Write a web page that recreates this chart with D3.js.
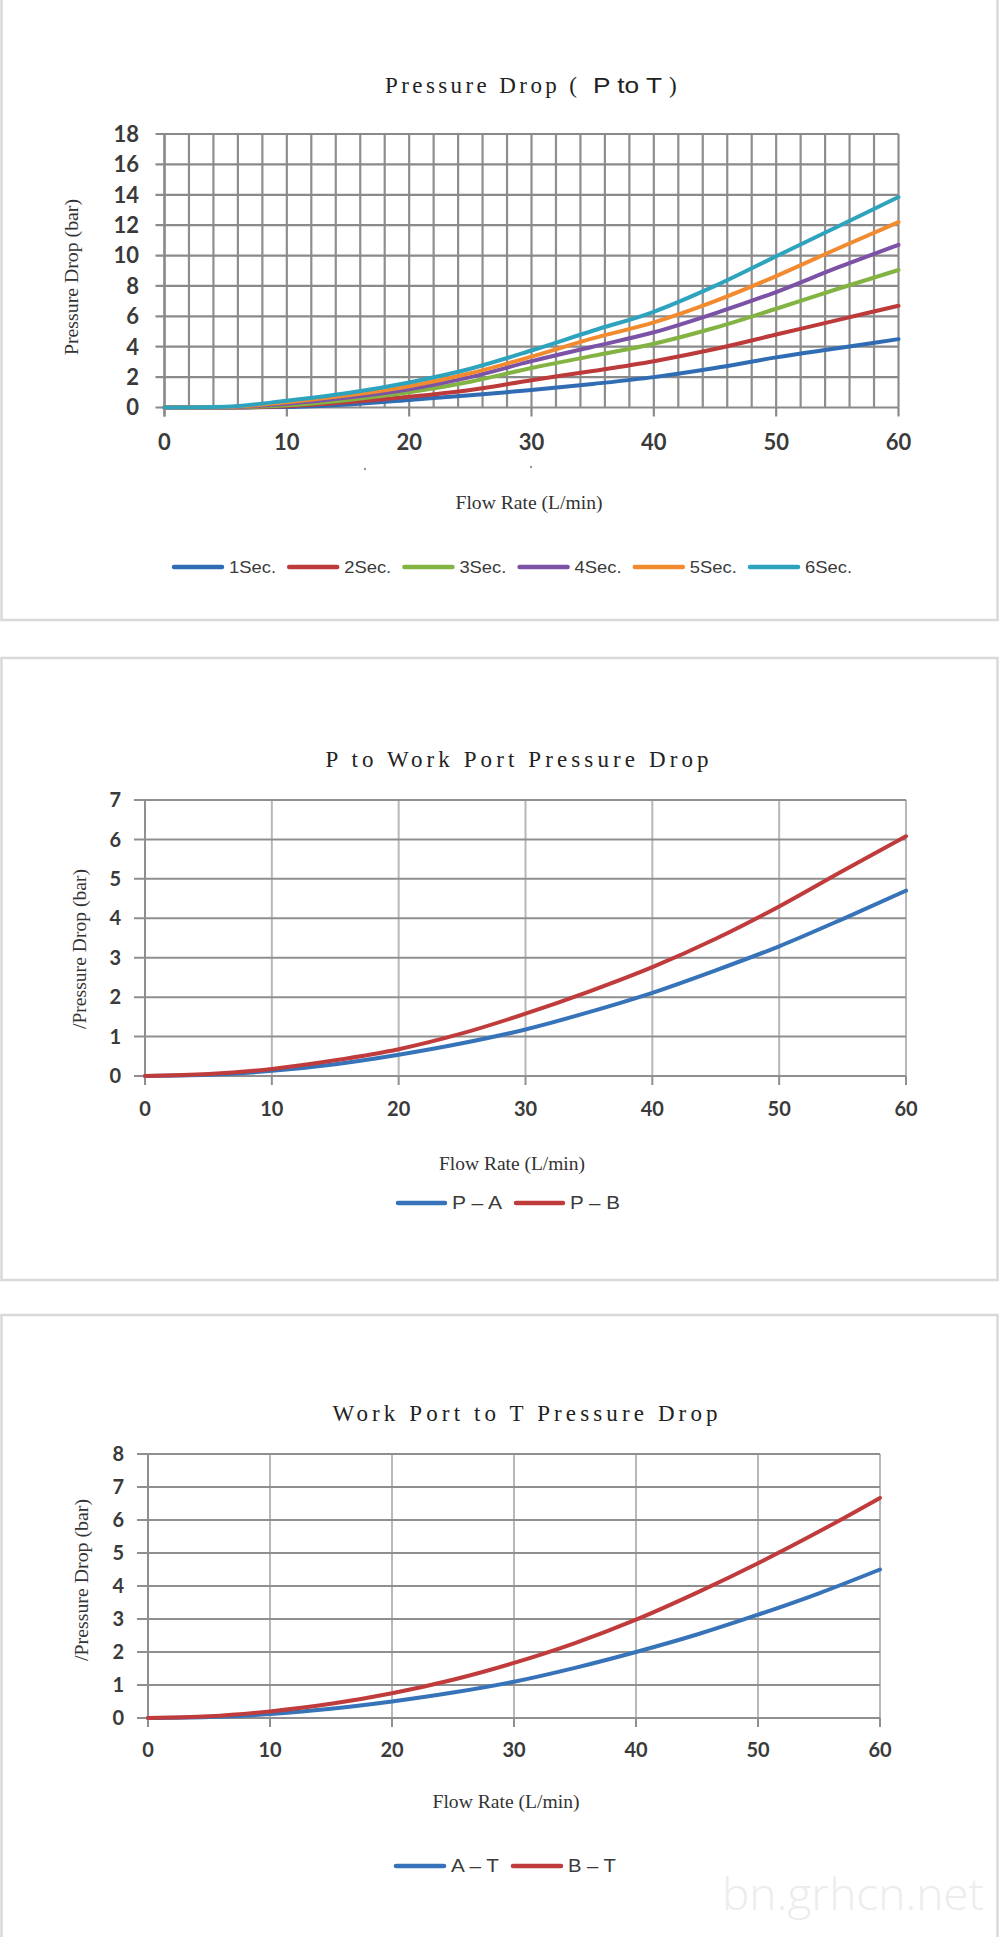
<!DOCTYPE html>
<html>
<head>
<meta charset="utf-8">
<script src="https://cdn.jsdelivr.net/npm/d3@7"></script>
<style>
  html, body { margin: 0; padding: 0; background: #fff; }
  svg { display: block; }
</style>
</head>
<body>
<svg id="chart" width="1000" height="1937"></svg>
<script>
// ---------------- DATA ----------------
const flow = [0, 5, 10, 15, 20, 25, 30, 35, 40, 45, 50, 55, 60];
const xTicks = [0, 10, 20, 30, 40, 50, 60];

// Chart 1: Pressure Drop (P to T)
const seriesNames1 = ["1Sec.", "2Sec.", "3Sec.", "4Sec.", "5Sec.", "6Sec."];
const sec1 = [0, 0, 0.03, 0.2, 0.5, 0.8, 1.15, 1.55, 2.0, 2.6, 3.3, 3.9, 4.5];
const sec2 = [0, 0, 0.08, 0.35, 0.7, 1.15, 1.8, 2.4, 3.05, 3.85, 4.8, 5.75, 6.7];
const sec3 = [0, 0.01, 0.15, 0.5, 1.0, 1.7, 2.6, 3.4, 4.2, 5.25, 6.5, 7.8, 9.05];
const sec4 = [0, 0.02, 0.25, 0.65, 1.2, 2.0, 3.05, 4.0, 4.95, 6.2, 7.6, 9.2, 10.7];
const sec5 = [0, 0.03, 0.35, 0.8, 1.4, 2.25, 3.35, 4.55, 5.6, 7.0, 8.65, 10.45, 12.2];
const sec6 = [0, 0.05, 0.45, 0.95, 1.65, 2.55, 3.75, 5.05, 6.3, 8.0, 9.95, 11.9, 13.85];
const yTicks1 = [0, 2, 4, 6, 8, 10, 12, 14, 16, 18];
const xGrid1 = d3.range(0, 61, 2);

// Chart 2: P to Work Port
const seriesNames2 = ["P – A", "P – B"];
const pA = [0, 0.03, 0.13, 0.3, 0.54, 0.83, 1.18, 1.62, 2.11, 2.68, 3.29, 3.98, 4.7];
const pB = [0, 0.05, 0.18, 0.4, 0.68, 1.08, 1.58, 2.14, 2.76, 3.48, 4.3, 5.2, 6.08];
const yTicks2 = [0, 1, 2, 3, 4, 5, 6, 7];

// Chart 3: Work Port to T
const seriesNames3 = ["A – T", "B – T"];
const aT = [0, 0.03, 0.12, 0.28, 0.5, 0.77, 1.1, 1.52, 2.0, 2.53, 3.13, 3.78, 4.5];
const bT = [0, 0.05, 0.2, 0.43, 0.75, 1.16, 1.67, 2.27, 2.98, 3.8, 4.69, 5.65, 6.67];
const yTicks3 = [0, 1, 2, 3, 4, 5, 6, 7, 8];

// ---------------- STYLE ----------------
const colors1 = ["#2f6cb4", "#bd3a3a", "#83b343", "#7b52a5", "#f28b30", "#2ea3bd"];
const colors2 = ["#3673b9", "#c03c3c"];
const serif = "'Liberation Serif', 'Times New Roman', serif";
const sans = "'Liberation Sans', Arial, sans-serif";
const tickFont = "Lato, 'Open Sans', sans-serif";

const svg = d3.select("#chart");

// panels
const panels = [
  { x: 1.5, y: -2, w: 996, h: 622 },
  { x: 1.5, y: 658, w: 996, h: 622 },
  { x: 1.5, y: 1315, w: 996, h: 640 }
];
svg.selectAll("rect.panel").data(panels).join("rect")
  .attr("class", "panel")
  .attr("x", d => d.x).attr("y", d => d.y)
  .attr("width", d => d.w).attr("height", d => d.h)
  .attr("fill", "#fff").attr("stroke", "#d9d9d9").attr("stroke-width", 2.5);

function zip(xs, ys) { return xs.map((x, i) => ({ x, y: ys[i] })); }

function drawChart(cfg) {
  const g = svg.append("g");
  const x = d3.scaleLinear().domain([0, 60]).range([cfg.left, cfg.right]);
  const y = d3.scaleLinear().domain([0, d3.max(cfg.yTicks)]).range([cfg.bottom, cfg.top]);

  // vertical grid
  g.selectAll("line.vg").data(cfg.xGrid).join("line")
    .attr("x1", d => x(d)).attr("x2", d => x(d))
    .attr("y1", cfg.top).attr("y2", cfg.bottom)
    .attr("stroke", cfg.vGridColor).attr("stroke-width", cfg.gridW);
  // horizontal grid + outward ticks
  g.selectAll("line.hg").data(cfg.yTicks).join("line")
    .attr("x1", cfg.left - cfg.yTickLen).attr("x2", cfg.right)
    .attr("y1", d => y(d)).attr("y2", d => y(d))
    .attr("stroke", cfg.hGridColor).attr("stroke-width", cfg.gridW);
  // x ticks downward
  g.selectAll("line.xt").data(xTicks).join("line")
    .attr("x1", d => x(d)).attr("x2", d => x(d))
    .attr("y1", cfg.bottom).attr("y2", cfg.bottom + cfg.xTickLen)
    .attr("stroke", cfg.hGridColor).attr("stroke-width", cfg.gridW);
  // axis line
  g.append("line")
    .attr("x1", cfg.left).attr("x2", cfg.left)
    .attr("y1", cfg.top).attr("y2", cfg.bottom + cfg.xTickLen)
    .attr("stroke", cfg.hGridColor).attr("stroke-width", cfg.gridW);

  // tick labels
  g.selectAll("text.yl").data(cfg.yTicks).join("text")
    .attr("x", cfg.yLabelX).attr("y", d => y(d))
    .attr("dy", "0.36em").attr("text-anchor", "end")
    .attr("font-family", tickFont).attr("font-weight", 700)
    .attr("font-size", cfg.tickSize).attr("fill", "#3a3a3a")
    .text(d => d);
  g.selectAll("text.xl").data(xTicks).join("text")
    .attr("x", d => x(d)).attr("y", cfg.xLabelY)
    .attr("dy", "0.36em").attr("text-anchor", "middle")
    .attr("font-family", tickFont).attr("font-weight", 700)
    .attr("font-size", cfg.tickSize).attr("fill", "#3a3a3a")
    .text(d => d);

  // lines
  const line = d3.line().x(d => x(d.x)).y(d => y(d.y)).curve(d3.curveMonotoneX);
  cfg.series.forEach((s, i) => {
    g.append("path").datum(zip(flow, s))
      .attr("d", line).attr("fill", "none")
      .attr("stroke", cfg.colors[i]).attr("stroke-width", cfg.lineW)
      .attr("stroke-linecap", "round").attr("stroke-linejoin", "round");
  });

  // y title
  g.append("text")
    .attr("transform", `translate(${cfg.yTitleX},${cfg.yTitleY}) rotate(-90)`)
    .attr("text-anchor", "middle").attr("dy", "0.35em")
    .attr("font-family", serif).attr("font-size", 18).attr("fill", "#333")
    .attr("textLength", cfg.yTitleLen).attr("lengthAdjust", "spacingAndGlyphs")
    .text(cfg.yTitle);
  // x title
  g.append("text")
    .attr("x", cfg.xTitleX).attr("y", cfg.xTitleY).attr("dy", "0.35em")
    .attr("text-anchor", "middle")
    .attr("font-family", serif).attr("font-size", 18).attr("fill", "#333")
    .attr("textLength", cfg.xTitleLen).attr("lengthAdjust", "spacingAndGlyphs")
    .text("Flow Rate (L/min)");

  // legend
  cfg.names.forEach((n, i) => {
    const lx = cfg.legendX + i * cfg.legendStep;
    g.append("line")
      .attr("x1", lx).attr("x2", lx + cfg.legendLine)
      .attr("y1", cfg.legendY).attr("y2", cfg.legendY)
      .attr("stroke", cfg.colors[i]).attr("stroke-width", 4.5)
      .attr("stroke-linecap", "round");
    g.append("text")
      .attr("x", lx + cfg.legendLine + 7).attr("y", cfg.legendY).attr("dy", "0.36em")
      .attr("font-family", sans).attr("font-size", cfg.legendSize).attr("fill", "#3a3a3a")
      .attr("textLength", cfg.legendTextLen).attr("lengthAdjust", "spacingAndGlyphs")
      .text(n);
  });
  return g;
}

// ---------- Chart 1 ----------
drawChart({
  left: 164.5, right: 898.5, top: 134, bottom: 407.5,
  yTicks: yTicks1, xGrid: xGrid1,
  hGridColor: "#8a8a8a", vGridColor: "#8e8e8e", gridW: 2.2,
  yTickLen: 9, xTickLen: 9,
  yLabelX: 139, xLabelY: 442, tickSize: 22,
  series: [sec1, sec2, sec3, sec4, sec5, sec6], colors: colors1, lineW: 4,
  yTitle: "Pressure Drop (bar)", yTitleX: 72, yTitleY: 277, yTitleLen: 156,
  xTitleX: 529, xTitleY: 503, xTitleLen: 147,
  names: seriesNames1, legendX: 174, legendStep: 115.2, legendLine: 48,
  legendY: 567, legendSize: 17, legendTextLen: 47
});
// title 1 (mixed fonts)
svg.append("text").attr("x", 385).attr("y", 93)
  .attr("font-family", serif).attr("font-size", 23).attr("fill", "#222")
  .attr("textLength", 192).attr("lengthAdjust", "spacing")
  .text("Pressure Drop (");
svg.append("text").attr("x", 593).attr("y", 93)
  .attr("font-family", sans).attr("font-size", 22).attr("fill", "#222")
  .attr("textLength", 69).attr("lengthAdjust", "spacingAndGlyphs")
  .text("P to T");
svg.append("text").attr("x", 669).attr("y", 93)
  .attr("font-family", serif).attr("font-size", 23).attr("fill", "#222")
  .text(")");
// small specks under chart 1 axis
svg.selectAll("circle.speck").data([[365, 469], [531, 467]]).join("circle")
  .attr("cx", d => d[0]).attr("cy", d => d[1]).attr("r", 1.2).attr("fill", "#9a9a9a");

// ---------- Chart 2 ----------
drawChart({
  left: 145, right: 906, top: 800, bottom: 1076,
  yTicks: yTicks2, xGrid: xTicks,
  hGridColor: "#8f8f8f", vGridColor: "#b8b8b8", gridW: 2,
  yTickLen: 11, xTickLen: 9,
  yLabelX: 121, xLabelY: 1109, tickSize: 20,
  series: [pA, pB], colors: colors2, lineW: 4,
  yTitle: "/Pressure Drop (bar)", yTitleX: 80, yTitleY: 949, yTitleLen: 160,
  xTitleX: 512, xTitleY: 1164, xTitleLen: 146,
  names: seriesNames2, legendX: 398, legendStep: 118, legendLine: 47,
  legendY: 1203, legendSize: 18, legendTextLen: 50
});
svg.append("text").attr("x", 517).attr("y", 767).attr("text-anchor", "middle")
  .attr("font-family", serif).attr("font-size", 23).attr("fill", "#222")
  .attr("textLength", 383).attr("lengthAdjust", "spacing")
  .text("P to Work Port Pressure Drop");

// ---------- Chart 3 ----------
drawChart({
  left: 148, right: 880, top: 1454, bottom: 1718,
  yTicks: yTicks3, xGrid: xTicks,
  hGridColor: "#8f8f8f", vGridColor: "#b8b8b8", gridW: 2,
  yTickLen: 11, xTickLen: 9,
  yLabelX: 124, xLabelY: 1750, tickSize: 20,
  series: [aT, bT], colors: colors2, lineW: 4,
  yTitle: "/Pressure Drop (bar)", yTitleX: 82, yTitleY: 1580, yTitleLen: 162,
  xTitleX: 506, xTitleY: 1802, xTitleLen: 147,
  names: seriesNames3, legendX: 396, legendStep: 117, legendLine: 48,
  legendY: 1866, legendSize: 18, legendTextLen: 48
});
svg.append("text").attr("x", 525).attr("y", 1421).attr("text-anchor", "middle")
  .attr("font-family", serif).attr("font-size", 23).attr("fill", "#222")
  .attr("textLength", 385).attr("lengthAdjust", "spacing")
  .text("Work Port to T Pressure Drop");

// watermark
svg.append("text").attr("x", 722).attr("y", 1910)
  .attr("font-family", "'Open Sans', sans-serif").attr("font-weight", 300)
  .attr("font-size", 44).attr("fill", "#ececec")
  .attr("textLength", 262).attr("lengthAdjust", "spacingAndGlyphs")
  .text("bn.grhcn.net");
</script>
</body>
</html>
